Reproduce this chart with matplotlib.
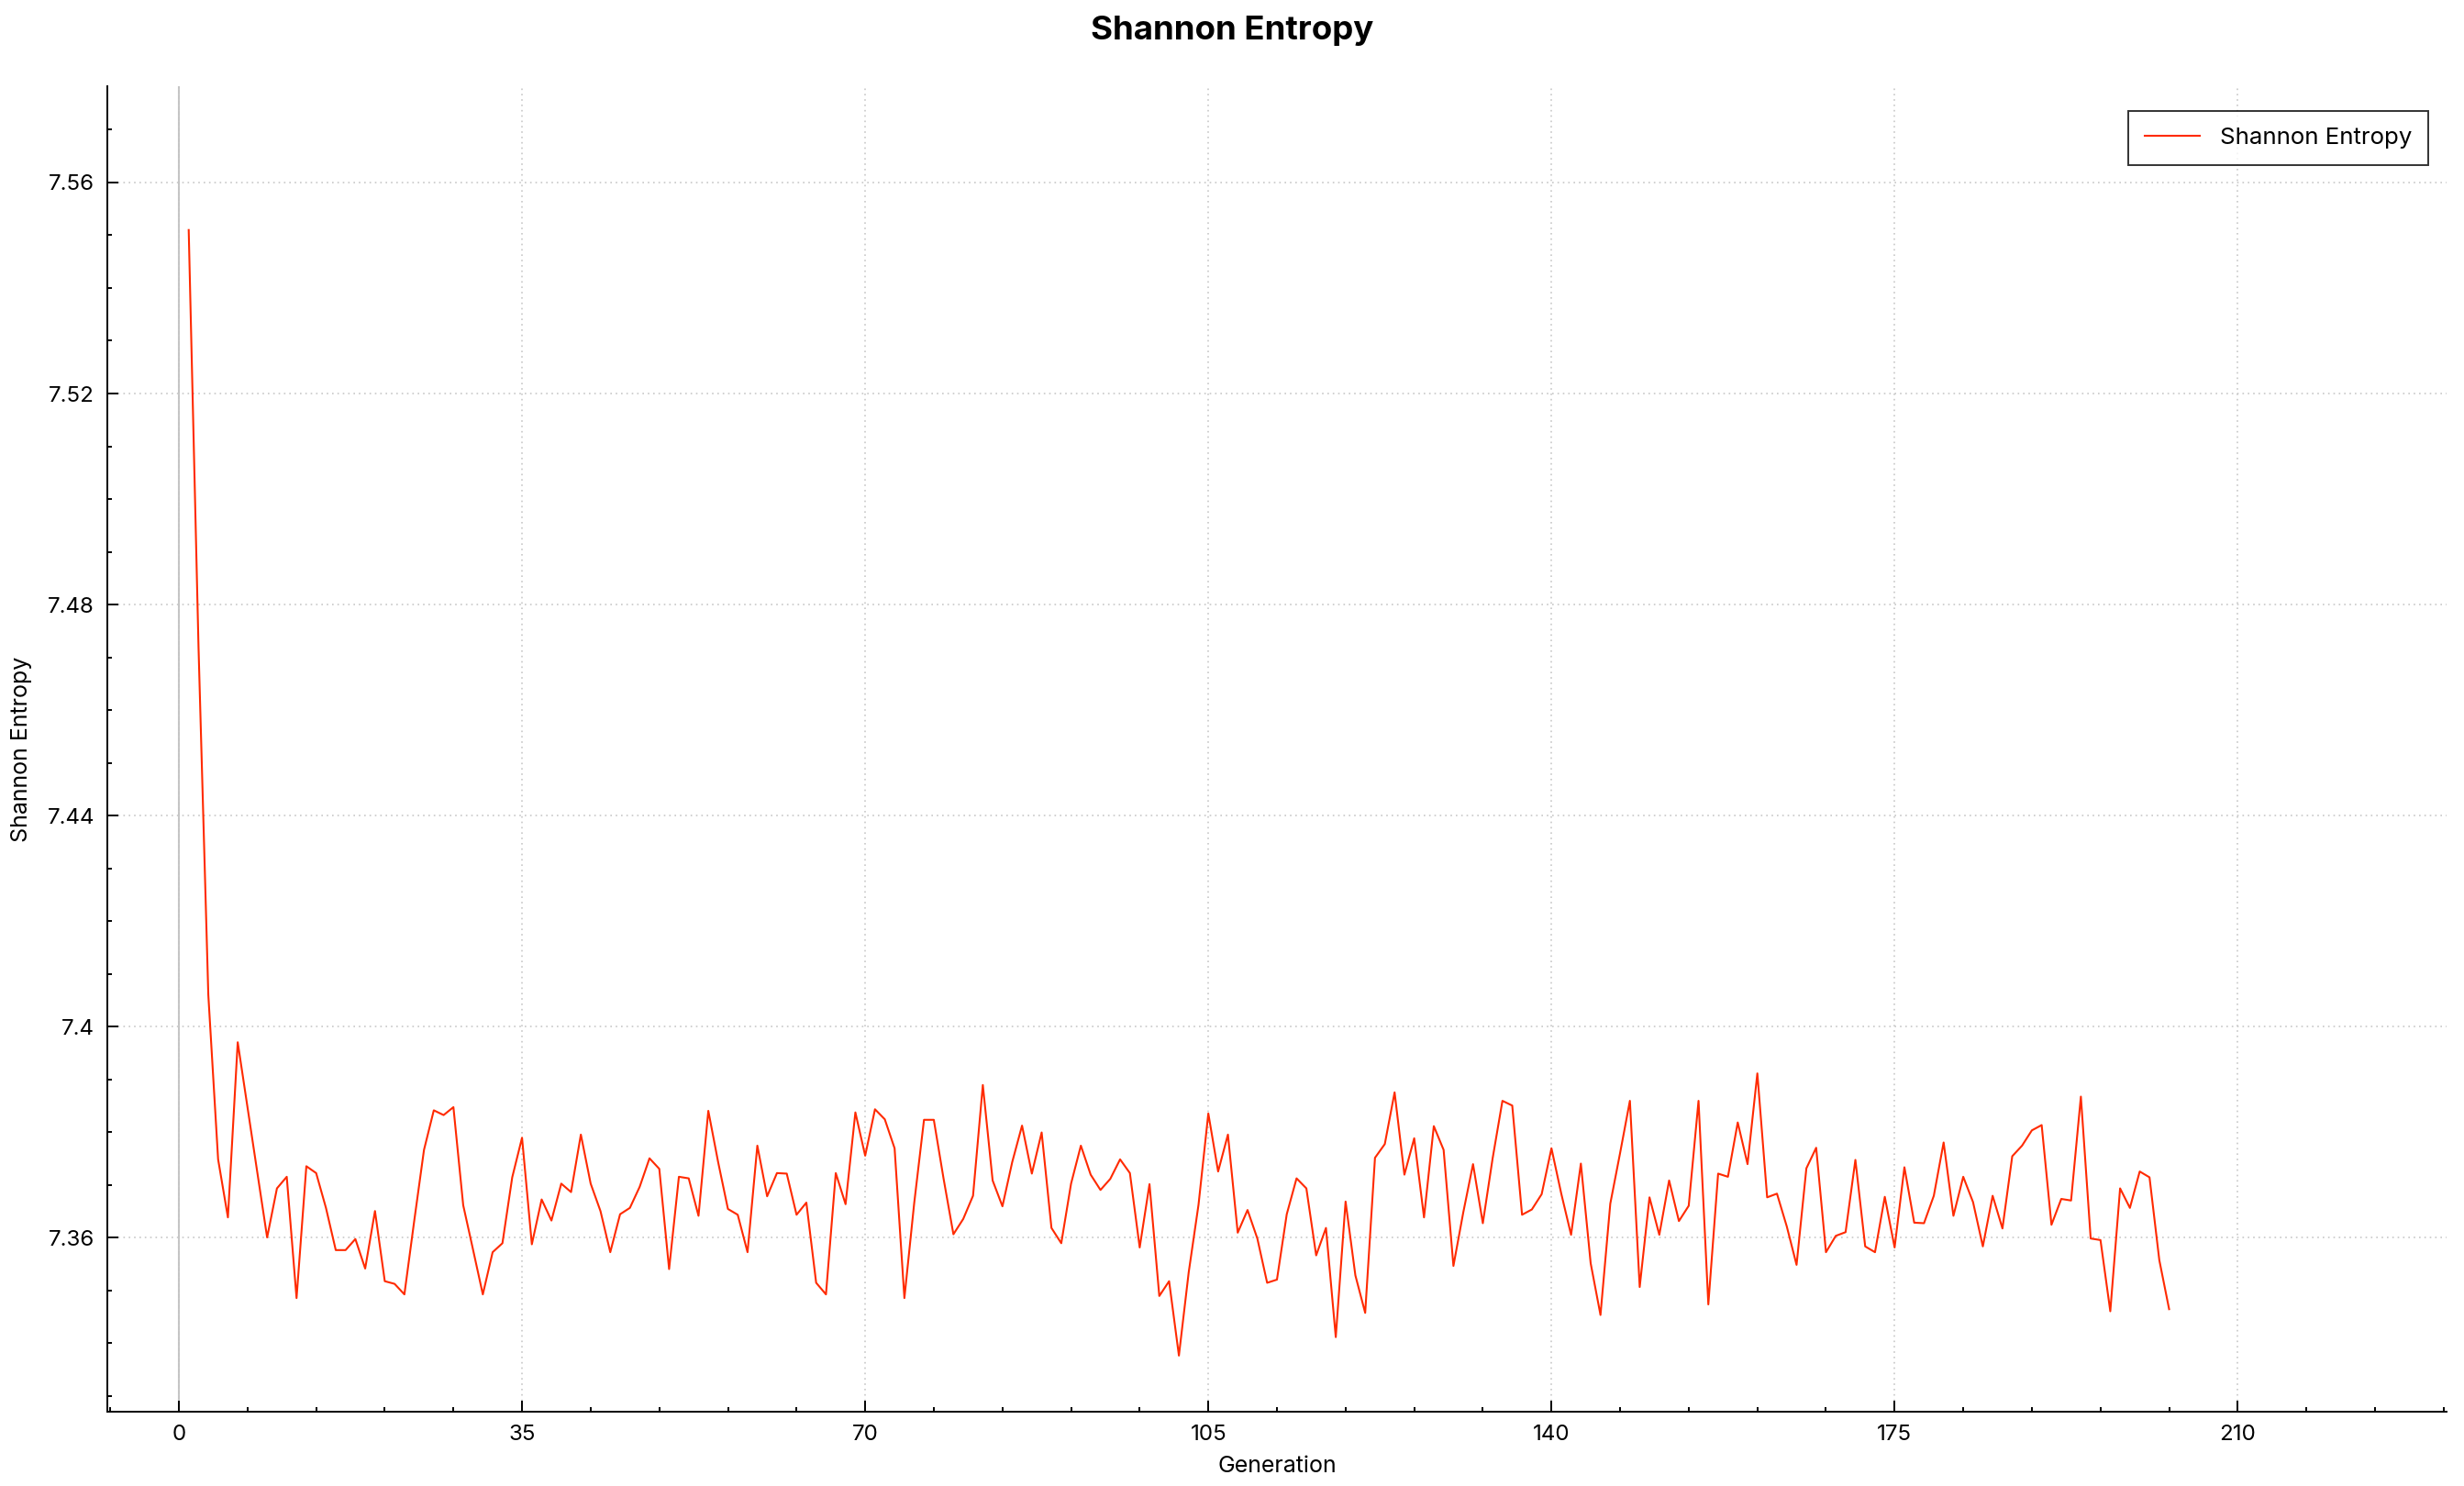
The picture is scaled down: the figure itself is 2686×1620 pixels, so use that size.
import matplotlib
matplotlib.use("Agg")
import matplotlib.pyplot as plt
from matplotlib.ticker import MultipleLocator, FuncFormatter
import numpy as np

plt.rcParams['font.family'] = ['Inter', 'DejaVu Sans']

generations = list(range(1, 204))
entropy = [
    7.551, 7.472, 7.406, 7.3748, 7.3638, 7.397, 7.3846, 7.3723, 7.360, 7.3693,
    7.3715, 7.3485, 7.3735, 7.3722, 7.3656, 7.3576, 7.3576, 7.3597, 7.3541, 7.365,
    7.3517, 7.3512, 7.3492, 7.3631, 7.3766, 7.3841, 7.3832, 7.3847, 7.3661, 7.3577,
    7.3492, 7.3572, 7.3589, 7.3714, 7.3789, 7.3587, 7.3672, 7.3632, 7.3702, 7.3686,
    7.3795, 7.3702, 7.365, 7.3572, 7.3644, 7.3656, 7.3696, 7.375, 7.373, 7.354,
    7.3715, 7.3712, 7.3641, 7.384, 7.3743, 7.3654, 7.3643, 7.3572, 7.3774, 7.3678,
    7.3722, 7.3721, 7.3643, 7.3666, 7.3514, 7.3492, 7.3722, 7.3663, 7.3837, 7.3755,
    7.3843, 7.3824, 7.3769, 7.3485, 7.3665, 7.3823, 7.3823, 7.3711, 7.3606, 7.3635,
    7.3679, 7.3889, 7.3708, 7.3659, 7.3743, 7.3812, 7.3721, 7.3799, 7.3618, 7.3589,
    7.3702, 7.3774, 7.3719, 7.369, 7.3711, 7.3748, 7.3722, 7.3581, 7.3701, 7.3489,
    7.3517, 7.3376, 7.3534, 7.3662, 7.3835, 7.3725, 7.3795, 7.3609, 7.3652, 7.3598,
    7.3514, 7.352, 7.3644, 7.3712, 7.3693, 7.3566, 7.3618, 7.3411, 7.3668, 7.3528,
    7.3457, 7.3751, 7.3777, 7.3875, 7.3719, 7.3788, 7.3638, 7.3811, 7.3766, 7.3546,
    7.3647, 7.3739, 7.3627, 7.375, 7.3859, 7.385, 7.3643, 7.3653, 7.3682, 7.3769,
    7.3683, 7.3605, 7.374, 7.3551, 7.3453, 7.3664, 7.376, 7.3859, 7.3506, 7.3676,
    7.3605, 7.3708, 7.3631, 7.366, 7.3859, 7.3473, 7.3721, 7.3715, 7.3818, 7.3739,
    7.3911, 7.3676, 7.3683, 7.3621, 7.3548, 7.3731, 7.377, 7.3572, 7.3603, 7.361,
    7.3747, 7.3583, 7.3572, 7.3677, 7.3581, 7.3733, 7.3628, 7.3627, 7.3679, 7.378,
    7.3641, 7.3715, 7.3667, 7.3583, 7.3679, 7.3617, 7.3754, 7.3774, 7.3803, 7.3813,
    7.3624, 7.3673, 7.367, 7.3867, 7.3598, 7.3595, 7.346, 7.3693, 7.3656, 7.3725,
    7.3714, 7.3557, 7.3464,
]

series_label = "Shannon Entropy"
title = "Shannon Entropy"
x_label = "Generation"
y_label = "Shannon Entropy"
line_color = "#ff2a00"

W, H, DPI = 2686, 1620, 200
fig = plt.figure(figsize=(W / DPI, H / DPI), dpi=DPI)
fig.patch.set_facecolor("white")

left, right, bottom, top = 117 / W, 2667 / W, 1 - 1539 / H, 1 - 94 / H
ax = fig.add_axes([left, bottom, right - left, top - bottom])

ax.axvline(0, color="#c4c4c4", lw=0.75, zorder=1)
ax.plot(generations, entropy, color=line_color, lw=0.75, label=series_label, zorder=3)

ax.set_xlim(-7.3, 231.3)
ax.set_ylim(7.32696, 7.57826)

ax.xaxis.set_major_locator(MultipleLocator(35))
ax.xaxis.set_minor_locator(MultipleLocator(7))
ax.set_yticks([7.36, 7.40, 7.44, 7.48, 7.52, 7.56])
ax.yaxis.set_minor_locator(MultipleLocator(0.01))
ax.yaxis.set_major_formatter(FuncFormatter(lambda v, p: f"{v:g}"))

ax.grid(True, which="major", color="#c8c8c8", linestyle=(0, (1, 2.5)), lw=0.6, zorder=0)
for s in ["top", "right"]:
    ax.spines[s].set_visible(False)
for s in ["left", "bottom"]:
    ax.spines[s].set_linewidth(0.7)
    ax.spines[s].set_color("black")

ax.tick_params(which="major", direction="in", length=4.3, width=0.7, labelsize=8.7, pad=5)
ax.tick_params(which="minor", direction="in", length=1.8, width=0.7)

ax.set_xlabel(x_label, fontsize=9, labelpad=4.5)
ax.set_ylabel(y_label, fontsize=9, labelpad=6)

leg = ax.legend(loc="upper right", bbox_to_anchor=(2647 / W, 1 - 121 / H), bbox_transform=fig.transFigure,
                frameon=True, fancybox=False, fontsize=9.3, handlelength=2.3, borderpad=0.7,
                handletextpad=0.85, borderaxespad=0)
leg.get_frame().set_edgecolor("black")
leg.get_frame().set_linewidth(0.7)

fig.text(0.5, 1 - 33 / H, title, ha="center", va="center", fontsize=13.2, fontweight="bold")

fig.savefig("out.png", dpi=DPI, facecolor="white")
